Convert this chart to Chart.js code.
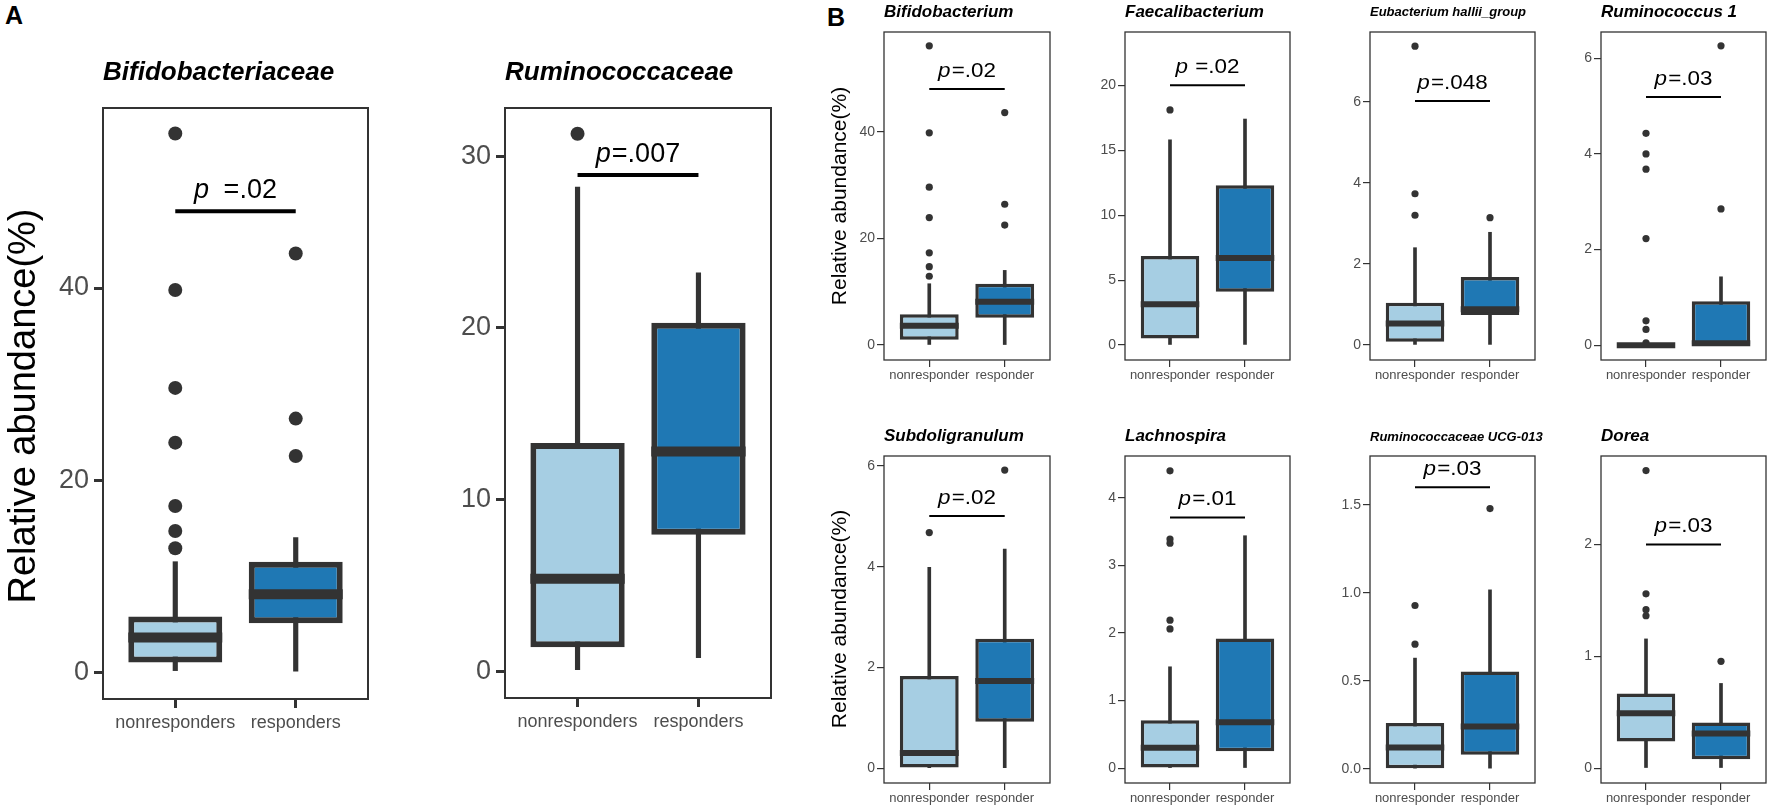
<!DOCTYPE html>
<html>
<head>
<meta charset="utf-8">
<script src="https://cdn.jsdelivr.net/npm/chart.js@4.4.1/dist/chart.umd.min.js"></script>
<style>
body { margin: 0; background: #fff; width: 1772px; height: 812px; position: relative; overflow: hidden; font-family: 'Liberation Sans', Arial, sans-serif; }
canvas { position: absolute; }
.tag { position: absolute; font-weight: bold; font-size: 25px; line-height: 28px; color: #000; }
</style>
</head>
<body>
<div class="tag" style="left:5px;top:1px">A</div>
<div class="tag" style="left:827px;top:3px">B</div>
<script>
// panel titles, in drawing order (A: two families, B: eight genera)
var taxa = ['Bifidobacteriaceae', 'Ruminococcaceae', 'Bifidobacterium', 'Faecalibacterium',
    'Eubacterium hallii_group', 'Ruminococcus 1', 'Subdoligranulum', 'Lachnospira',
    'Ruminococcaceae UCG-013', 'Dorea'];
var groupsA = ['nonresponders', 'responders'];
var groupsB = ['nonresponder', 'responder'];

// box stats per panel: [lower whisker, q1, median, q3, upper whisker]
var nonresponderBox = [
    [0, 1.0, 3.6, 5.8, 11.5],
    [0.1, 1.4, 5.4, 13.3, 28.2],
    [0, 1.0, 3.6, 5.8, 11.5],
    [0, 0.5, 3.15, 6.85, 15.8],
    [0, 0.08, 0.53, 1.04, 2.4],
    [0, 0, 0, 0.01, 0.02],
    [0, 0, 0.3, 1.83, 3.99],
    [0, 0, 0.3, 0.71, 1.5],
    [0, 0, 0.121, 0.26, 0.629],
    [0, 0.238, 0.49, 0.668, 1.155]
];
var responderBox = [
    [0.1, 5.1, 8.1, 11.5, 14.0],
    [0.8, 7.95, 12.8, 20.3, 23.2],
    [0.1, 5.1, 8.1, 11.5, 14.0],
    [0.05, 4.1, 6.7, 12.3, 17.4],
    [0, 0.74, 0.88, 1.68, 2.78],
    [0, 0, 0.04, 0.92, 1.43],
    [0.01, 0.92, 1.73, 2.57, 4.35],
    [0, 0.25, 0.68, 1.92, 3.44],
    [0, 0.08, 0.24, 0.553, 1.017],
    [0, 0.08, 0.309, 0.407, 0.757]
];
var nonresponderOutliers = [
    [56.1, 39.8, 29.6, 23.9, 17.3, 14.7, 12.9],
    [31.3],
    [56.1, 39.8, 29.6, 23.9, 17.3, 14.7, 12.9],
    [18.1],
    [7.37, 3.73, 3.2],
    [4.43, 4.0, 3.68, 2.23, 0.51, 0.33, 0.05],
    [4.68],
    [4.4, 3.39, 3.33, 2.19, 2.06],
    [0.928, 0.708],
    [2.66, 1.558, 1.416, 1.362]
];
var responderOutliers = [
    [43.6, 26.4, 22.5],
    [],
    [43.6, 26.4, 22.5],
    [],
    [3.14],
    [6.26, 2.85],
    [5.92],
    [],
    [1.479],
    [0.955]
];
var pLabels = ['\u2002=.02', '=.007', '=.02', ' =.02', '=.048', '=.03', '=.02', '=.01', '=.03', '=.03'];
var sigLineY = [48.0, 28.9, 48.0, 20.0, 6.02, 5.19, 5.01, 3.71, 1.6, 2.0];
var yTicks = [[0, 20, 40], [0, 10, 20, 30], [0, 20, 40], [0, 5, 10, 15, 20], [0, 2, 4, 6],
    [0, 2, 4, 6], [0, 2, 4, 6], [0, 1, 2, 3, 4], [0, 0.5, 1, 1.5], [0, 1, 2]];
var yRanges = [[-2.8, 58.75], [-1.55, 32.8], [-2.8, 58.7], [-1.15, 24.1], [-0.37, 7.72],
    [-0.31, 6.55], [-0.295, 6.2], [-0.22, 4.62], [-0.081, 1.778], [-0.133, 2.79]];

// where each panel sits on the page
var panelLayout = [
    {left: 0, top: 0, box: [103, 108, 368, 699], kind: 'A', titleY: 73, yTitle: [25, 406]},
    {left: 430, top: 0, box: [505, 108, 771, 698], kind: 'A', titleY: 73},
    {left: 820, top: 0, box: [884, 32, 1050, 360], kind: 'B', titleY: 12, yTitle: [840, 196]},
    {left: 1080, top: 0, box: [1125, 32, 1290, 360], kind: 'B', titleY: 12},
    {left: 1325, top: 0, box: [1370, 32, 1535, 360], kind: 'B', titleY: 12, titleSize: 13},
    {left: 1556, top: 0, box: [1601, 32, 1766, 360], kind: 'B', titleY: 12},
    {left: 820, top: 400, box: [884, 456, 1050, 783], kind: 'B', titleY: 436, yTitle: [840, 619]},
    {left: 1080, top: 400, box: [1125, 456, 1290, 783], kind: 'B', titleY: 436},
    {left: 1325, top: 400, box: [1370, 456, 1535, 783], kind: 'B', titleY: 437, titleSize: 13},
    {left: 1556, top: 400, box: [1601, 456, 1766, 783], kind: 'B', titleY: 436}
];
var kindStyle = {
    A: {xh: 45, tickLen: 9, tickWidth: 3, tickFont: 27, xFont: 18, xPad: 4, yPad: 5, titleSize: 26,
        pSize: 27, pStretch: 1, pGap: 13, yTitleSize: 38, boxBorder: 6, median: 10, whisker: 4.5,
        point: 7, frame: 2, sigWidth: 4},
    B: {xh: 30, tickLen: 7, tickWidth: 1.2, tickFont: 14, xFont: 13, xPad: 1, yPad: 2, titleSize: 17,
        pSize: 20, pStretch: 1.12, pGap: 12, yTitleSize: 21, boxBorder: 3.5, median: 6, whisker: 3,
        point: 3.6, frame: 1.3, sigWidth: 2}
};
var FONT = "'Liberation Sans', Arial, sans-serif";
var boxWidth = 0.78;
var rightPad = 14;

var boxExtras = {
    id: 'boxExtras',
    afterDatasetsDraw: function(chart, args, opts) {
        var ctx = chart.ctx, x = chart.scales.x, y = chart.scales.y, a = chart.chartArea;
        var s = opts.style, i = opts.index, lay = opts.layout;
        ctx.save();
        // medians
        var half = (x.getPixelForValue(2) - x.getPixelForValue(1)) * boxWidth / 2;
        ctx.strokeStyle = '#333333';
        ctx.lineWidth = s.median;
        [nonresponderBox[i][2], responderBox[i][2]].forEach(function(m, g) {
            var cx = x.getPixelForValue(g + 1), py = y.getPixelForValue(m);
            ctx.beginPath();
            ctx.moveTo(cx - half, py);
            ctx.lineTo(cx + half, py);
            ctx.stroke();
        });
        // panel frame
        ctx.lineWidth = s.frame;
        ctx.strokeRect(a.left, a.top, a.right - a.left, a.bottom - a.top);
        // significance bar and p value
        var x1 = x.getPixelForValue(1), x2 = x.getPixelForValue(2), sy = y.getPixelForValue(sigLineY[i]);
        ctx.strokeStyle = '#000';
        ctx.lineWidth = s.sigWidth;
        ctx.beginPath();
        ctx.moveTo(x1, sy);
        ctx.lineTo(x2, sy);
        ctx.stroke();
        ctx.fillStyle = '#000';
        ctx.textBaseline = 'alphabetic';
        ctx.textAlign = 'left';
        ctx.font = 'italic ' + s.pSize + 'px ' + FONT;
        var w1 = ctx.measureText('p').width + 1;
        ctx.font = s.pSize + 'px ' + FONT;
        var w2 = ctx.measureText(pLabels[i]).width;
        ctx.save();
        ctx.translate((x1 + x2) / 2 - (w1 + w2) * s.pStretch / 2, sy - s.pGap);
        ctx.scale(s.pStretch, 1);
        ctx.font = 'italic ' + s.pSize + 'px ' + FONT;
        ctx.fillText('p', 0, 0);
        ctx.font = s.pSize + 'px ' + FONT;
        ctx.fillText(pLabels[i], w1, 0);
        ctx.restore();
        // title
        ctx.font = 'italic bold ' + (lay.titleSize || s.titleSize) + 'px ' + FONT;
        ctx.textBaseline = 'middle';
        ctx.fillText(taxa[i], a.left, lay.titleY - lay.top);
        // y axis title
        if (lay.yTitle) {
            ctx.translate(lay.yTitle[0] - lay.left, lay.yTitle[1] - lay.top);
            ctx.rotate(-Math.PI / 2);
            ctx.textAlign = 'center';
            ctx.font = s.yTitleSize + 'px ' + FONT;
            ctx.fillText('Relative abundance(%)', 0, 0);
        }
        ctx.restore();
    }
};

function drawPanel(i) {
    var lay = panelLayout[i], s = kindStyle[lay.kind];
    var groups = lay.kind === 'A' ? groupsA : groupsB;
    var box = lay.box;
    var canvas = document.createElement('canvas');
    var w = box[2] - lay.left + rightPad, h = box[3] - lay.top + s.xh;
    canvas.width = w;
    canvas.height = h;
    canvas.style.left = lay.left + 'px';
    canvas.style.top = lay.top + 'px';
    canvas.style.width = w + 'px';
    canvas.style.height = h + 'px';
    document.body.appendChild(canvas);

    var non = nonresponderBox[i], res = responderBox[i];
    var points = [];
    nonresponderOutliers[i].forEach(function(v) { points.push({x: 1, y: v}); });
    responderOutliers[i].forEach(function(v) { points.push({x: 2, y: v}); });
    var decimals = yTicks[i].some(function(v) { return v % 1 !== 0; }) ? 1 : 0;

    new Chart(canvas, {
        type: 'bar',
        data: {
            datasets: [{
                type: 'scatter',
                data: points,
                backgroundColor: '#333333',
                borderWidth: 0,
                pointRadius: s.point,
                order: 1
            }, {
                data: [{x: 1, y: [non[1], non[3]]}, {x: 2, y: [res[1], res[3]]}],
                backgroundColor: ['#A6CEE3', '#1F78B4'],
                borderColor: '#333333',
                borderWidth: s.boxBorder,
                borderSkipped: false,
                grouped: false,
                categoryPercentage: 1,
                barPercentage: boxWidth,
                order: 2
            }, {
                data: [{x: 1, y: [non[0], non[4]]}, {x: 2, y: [res[0], res[4]]}],
                backgroundColor: '#333333',
                barThickness: s.whisker,
                grouped: false,
                order: 3
            }]
        },
        options: {
            responsive: false,
            animation: false,
            events: [],
            layout: {padding: {left: 0, top: box[1] - lay.top, right: rightPad, bottom: 0}},
            plugins: {
                legend: {display: false},
                tooltip: {enabled: false},
                boxExtras: {style: s, index: i, layout: lay}
            },
            scales: {
                x: {
                    type: 'linear',
                    min: 0.4,
                    max: 2.6,
                    offset: false,
                    afterBuildTicks: function(scale) { scale.ticks = [{value: 1}, {value: 2}]; },
                    afterFit: function(scale) { scale.height = s.xh; },
                    grid: {offset: false, drawOnChartArea: false, drawTicks: true, tickLength: s.tickLen,
                        color: '#333333', lineWidth: s.tickWidth},
                    border: {display: false},
                    ticks: {
                        autoSkip: false, maxRotation: 0, minRotation: 0, padding: s.xPad,
                        color: '#4D4D4D', font: {family: FONT, size: s.xFont},
                        callback: function(v) { return groups[v - 1]; }
                    }
                },
                y: {
                    min: yRanges[i][0],
                    max: yRanges[i][1],
                    afterBuildTicks: function(scale) {
                        scale.ticks = yTicks[i].map(function(v) { return {value: v}; });
                    },
                    afterFit: function(scale) { scale.width = box[0] - lay.left; },
                    grid: {drawOnChartArea: false, drawTicks: true, tickLength: s.tickLen,
                        color: '#333333', lineWidth: s.tickWidth},
                    border: {display: false},
                    ticks: {
                        autoSkip: false, padding: s.yPad,
                        color: '#4D4D4D', font: {family: FONT, size: s.tickFont},
                        callback: function(v) { return v.toFixed(decimals); }
                    }
                }
            }
        },
        plugins: [boxExtras]
    });
}

for (var i = 0; i < taxa.length; i++) {
    drawPanel(i);
}
</script>
</body>
</html>
